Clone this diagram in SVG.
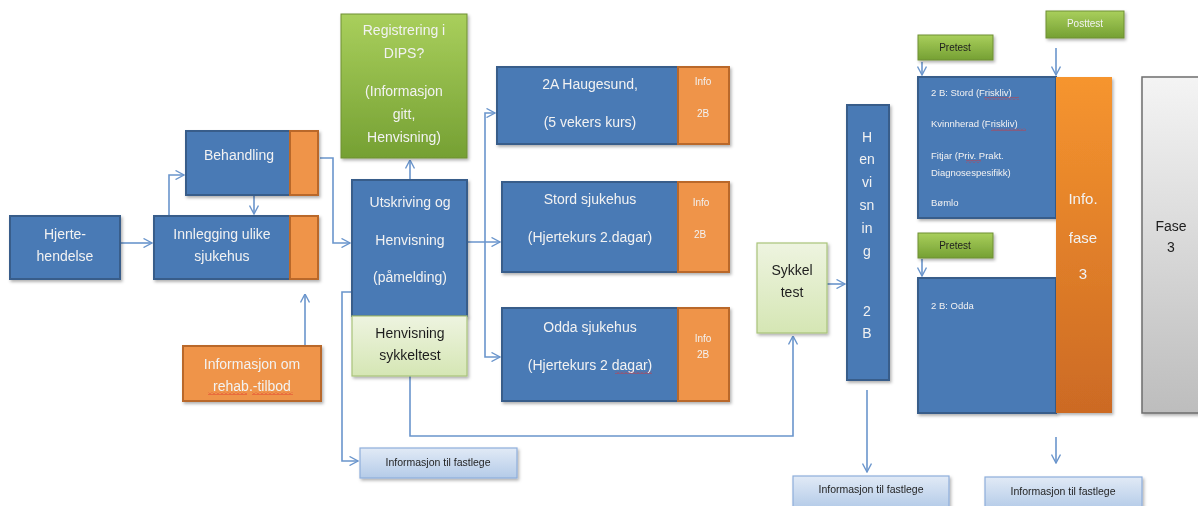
<svg xmlns="http://www.w3.org/2000/svg" width="1198" height="506" viewBox="0 0 1198 506">
<defs>
<style>
.blue{fill:#4a7ab5;stroke:#385d8a;stroke-width:2}
.org{fill:#ef9448;stroke:#b9682c;stroke-width:2}
.lg{fill:url(#gLight);stroke:#a9c47a;stroke-width:1.2}
.fl{fill:url(#gFast);stroke:#8eaedb;stroke-width:1.2}
.gr{fill:url(#gGreen);stroke:#6e8f35;stroke-width:1}
.t{font-family:"Liberation Sans",Arial,sans-serif;text-anchor:middle;dominant-baseline:central}
.w{fill:#f2f2f2;font-size:14px}
.d{fill:#1e1e1e;font-size:14px}
.s{font-size:10px}
.l{text-anchor:start}
.c{fill:none;stroke:#6a95cc;stroke-width:1.6}
</style>
<linearGradient id="gGreen" x1="0" y1="0" x2="0" y2="1"><stop offset="0" stop-color="#a9cf5c"/><stop offset="1" stop-color="#75a033"/></linearGradient>
<linearGradient id="gLight" x1="0" y1="0" x2="0" y2="1"><stop offset="0" stop-color="#eef4e0"/><stop offset="1" stop-color="#d5e6b4"/></linearGradient>
<linearGradient id="gFast" x1="0" y1="0" x2="0" y2="1"><stop offset="0" stop-color="#e1eaf6"/><stop offset="1" stop-color="#b4cbe8"/></linearGradient>
<linearGradient id="gOrange" x1="0" y1="0" x2="0" y2="1"><stop offset="0" stop-color="#f6952f"/><stop offset="1" stop-color="#cc6a24"/></linearGradient>
<linearGradient id="gGray" x1="0" y1="0" x2="0" y2="1"><stop offset="0" stop-color="#f4f4f4"/><stop offset="1" stop-color="#bdbdbd"/></linearGradient>
<filter id="sh" x="-10%" y="-10%" width="130%" height="130%"><feDropShadow dx="1.5" dy="2" stdDeviation="1.5" flood-opacity="0.3"/></filter>
<marker id="ar" viewBox="0 0 10 10" refX="9.5" refY="5" markerWidth="10" markerHeight="10" markerUnits="userSpaceOnUse" orient="auto"><path d="M1,0.5 L9.5,5 L1,9.5" fill="none" stroke="#6a95cc" stroke-width="1.4"/></marker>
<pattern id="squig" width="4" height="3" patternUnits="userSpaceOnUse"><path d="M0,2.5 L2,0.5 L4,2.5" fill="none" stroke="#e03030" stroke-width="0.8"/></pattern>
</defs>
<rect width="1198" height="506" fill="#ffffff"/>

<g id="connectors">
<path class="c" d="M120,243 H152" marker-end="url(#ar)"/>
<path class="c" d="M169,216 V175 H184" marker-end="url(#ar)"/>
<path class="c" d="M254,195 V214" marker-end="url(#ar)"/>
<path class="c" d="M320,158 H333 V243 H350" marker-end="url(#ar)"/>
<path class="c" d="M305,346 V294" marker-end="url(#ar)"/>
<path class="c" d="M410,180 V160" marker-end="url(#ar)"/>
<path class="c" d="M467,242 H500" marker-end="url(#ar)"/>
<path class="c" d="M485,243 V113 H495" marker-end="url(#ar)"/>
<path class="c" d="M485,243 V357 H500" marker-end="url(#ar)"/>
<path class="c" d="M352,292 H342 V461 H358" marker-end="url(#ar)"/>
<path class="c" d="M410,376 V436 H793 V336" marker-end="url(#ar)"/>
<path class="c" d="M827,284 H845" marker-end="url(#ar)"/>
<path class="c" d="M867,390 V472" marker-end="url(#ar)"/>
<path class="c" d="M922,62 V75" marker-end="url(#ar)"/>
<path class="c" d="M1056,48 V75" marker-end="url(#ar)"/>
<path class="c" d="M922,259 V276" marker-end="url(#ar)"/>
<path class="c" d="M1056,437 V463" marker-end="url(#ar)"/>
</g>

<g id="hjertehendelse" filter="url(#sh)">
<rect class="blue" x="10" y="216" width="110" height="63"/>
<text class="t w" x="65" y="234">Hjerte-</text>
<text class="t w" x="65" y="256">hendelse</text>
</g>

<g id="innlegging" filter="url(#sh)">
<rect class="blue" x="154" y="216" width="136" height="63"/>
<rect class="org" x="290" y="216" width="28" height="63"/>
<text class="t w" x="222" y="234">Innlegging ulike</text>
<text class="t w" x="222" y="256">sjukehus</text>
</g>

<g id="behandling" filter="url(#sh)">
<rect class="blue" x="186" y="131" width="104" height="64"/>
<rect class="org" x="290" y="131" width="28" height="64"/>
<text class="t w" x="239" y="155">Behandling</text>
</g>

<g id="rehab" filter="url(#sh)">
<rect class="org" x="183" y="346" width="138" height="55"/>
<text class="t w" x="252" y="364">Informasjon om</text>
<text class="t w" x="252" y="386">rehab.-tilbod</text>
<rect x="208" y="392" width="39" height="3" fill="url(#squig)"/>
<rect x="252" y="392" width="41" height="3" fill="url(#squig)"/>
</g>

<g id="registrering" filter="url(#sh)">
<rect class="gr" x="341" y="14" width="126" height="144"/>
<text class="t w" x="404" y="30" fill="#f4f8ea">Registrering i</text>
<text class="t w" x="404" y="53">DIPS?</text>
<text class="t w" x="404" y="91">(Informasjon</text>
<text class="t w" x="404" y="114">gitt,</text>
<text class="t w" x="404" y="137">Henvisning)</text>
</g>

<g id="utskriving" filter="url(#sh)">
<rect class="blue" x="352" y="180" width="115" height="136"/>
<text class="t w" x="410" y="202">Utskriving og</text>
<text class="t w" x="410" y="240">Henvisning</text>
<text class="t w" x="410" y="277">(påmelding)</text>
</g>

<g id="henvisning-sykkeltest" filter="url(#sh)">
<rect class="lg" x="352" y="316" width="115" height="60"/>
<text class="t d" x="410" y="333">Henvisning</text>
<text class="t d" x="410" y="355">sykkeltest</text>
</g>

<g id="haugesund" filter="url(#sh)">
<rect class="blue" x="497" y="67" width="181" height="77"/>
<rect class="org" x="678" y="67" width="51" height="77"/>
<text class="t w" x="590" y="84">2A Haugesund,</text>
<text class="t w" x="590" y="122">(5 vekers kurs)</text>
<text class="t w s" x="703" y="81">Info</text>
<text class="t w s" x="703" y="113">2B</text>
</g>

<g id="stord" filter="url(#sh)">
<rect class="blue" x="502" y="182" width="176" height="90"/>
<rect class="org" x="678" y="182" width="51" height="90"/>
<text class="t w" x="590" y="199">Stord sjukehus</text>
<text class="t w" x="590" y="237">(Hjertekurs 2.dagar)</text>
<text class="t w s" x="701" y="202">Info</text>
<text class="t w s" x="700" y="234">2B</text>
</g>

<g id="odda" filter="url(#sh)">
<rect class="blue" x="502" y="308" width="176" height="93"/>
<rect class="org" x="678" y="308" width="51" height="93"/>
<text class="t w" x="590" y="327">Odda sjukehus</text>
<text class="t w" x="590" y="365">(Hjertekurs 2 dagar)</text>
<rect x="615" y="371" width="37" height="3" fill="url(#squig)"/>
<text class="t w s" x="703" y="338">Info</text>
<text class="t w s" x="703" y="354">2B</text>
</g>

<g id="fastlege-1" filter="url(#sh)">
<rect class="fl" x="360" y="448" width="157" height="30"/>
<text class="t d" x="438" y="462" style="font-size:10.5px">Informasjon til fastlege</text>
</g>

<g id="sykkeltest" filter="url(#sh)">
<rect class="lg" x="757" y="243" width="70" height="90"/>
<text class="t d" x="792" y="270">Sykkel</text>
<text class="t d" x="792" y="292">test</text>
</g>

<g id="henvisning-2b" filter="url(#sh)">
<rect class="blue" x="847" y="105" width="42" height="275"/>
<text class="t w" x="867" y="137">H</text>
<text class="t w" x="867" y="159">en</text>
<text class="t w" x="867" y="182">vi</text>
<text class="t w" x="867" y="205">sn</text>
<text class="t w" x="867" y="228">in</text>
<text class="t w" x="867" y="251">g</text>
<text class="t w" x="867" y="311">2</text>
<text class="t w" x="867" y="333">B</text>
</g>

<g id="fastlege-2" filter="url(#sh)">
<rect class="fl" x="793" y="476" width="156" height="32"/>
<text class="t d" x="871" y="489" style="font-size:10.5px">Informasjon til fastlege</text>
</g>

<g id="pretest-1" filter="url(#sh)">
<rect class="gr" x="918" y="35" width="75" height="25"/>
<text class="t d" x="955" y="47" style="font-size:10px">Pretest</text>
</g>

<g id="posttest" filter="url(#sh)">
<rect class="gr" x="1046" y="11" width="78" height="27"/>
<text class="t w" x="1085" y="23" style="font-size:10px">Posttest</text>
</g>

<g id="stord-2b" filter="url(#sh)">
<rect class="blue" x="918" y="77" width="138" height="141"/>
<g class="t w" style="font-size:9.5px">
<text class="l" x="931" y="92">2 B: Stord (Friskliv)</text>
<text class="l" x="931" y="123">Kvinnherad (Friskliv)</text>
<text class="l" x="931" y="155">Fitjar  (Priv. Prakt.</text>
<text class="l" x="931" y="172">Diagnosespesifikk)</text>
<text class="l" x="931" y="202">Bømlo</text>
</g>
<rect x="984" y="97" width="35" height="3" fill="url(#squig)"/>
<rect x="991" y="128" width="35" height="3" fill="url(#squig)"/>
<rect x="966" y="160" width="15" height="3" fill="url(#squig)"/>
</g>

<g id="pretest-2" filter="url(#sh)">
<rect class="gr" x="918" y="233" width="75" height="25"/>
<text class="t d" x="955" y="245" style="font-size:10px">Pretest</text>
</g>

<g id="odda-2b" filter="url(#sh)">
<rect class="blue" x="918" y="278" width="138" height="135"/>
<text class="t w l" x="931" y="305" style="font-size:9.5px">2 B: Odda</text>
</g>

<g id="info-fase3" filter="url(#sh)">
<rect x="1056" y="77" width="56" height="336" fill="url(#gOrange)"/>
<text class="t w" x="1083" y="198" style="font-size:15px">Info.</text>
<text class="t w" x="1083" y="237" style="font-size:15px">fase</text>
<text class="t w" x="1083" y="273" style="font-size:15px">3</text>
</g>

<g id="fase3" filter="url(#sh)">
<rect x="1142" y="77" width="60" height="336" fill="url(#gGray)" stroke="#6e6e6e" stroke-width="1.5"/>
<text class="t d" x="1171" y="226">Fase</text>
<text class="t d" x="1171" y="247">3</text>
</g>

<g id="fastlege-3" filter="url(#sh)">
<rect class="fl" x="985" y="477" width="157" height="32"/>
<text class="t d" x="1063" y="491" style="font-size:10.5px">Informasjon til fastlege</text>
</g>
</svg>
